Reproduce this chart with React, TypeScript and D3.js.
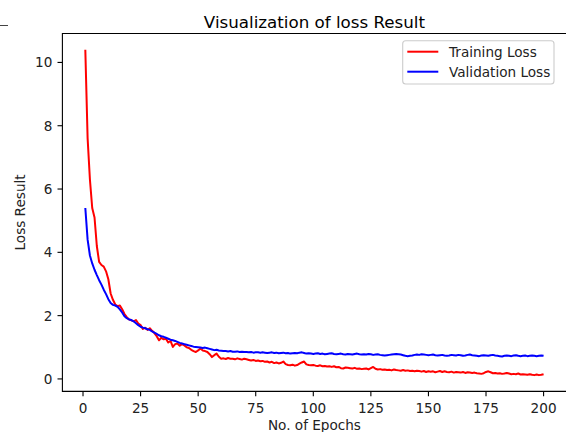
import React from 'react';
import * as d3 from 'd3';

// values (epochs 1..200)
const trainLoss = [
  10.4, 7.6, 6.3, 5.4, 5.1, 4.2, 3.7, 3.6, 3.55, 3.4,
  3.15, 2.7, 2.5, 2.35, 2.3, 2.32, 2.2, 2.05, 1.95, 1.88,
  1.85, 1.82, 1.86, 1.75, 1.7, 1.58, 1.62, 1.55, 1.6, 1.52,
  1.45, 1.35, 1.22, 1.3, 1.25, 1.27, 1.15, 1.2, 1.01, 1.1,
  1.12, 1.05, 1.1, 1.06, 1.0, 0.98, 0.92, 0.88, 0.85, 0.9,
  0.96, 0.9, 0.88, 0.85, 0.78, 0.69, 0.75, 0.8, 0.7, 0.64,
  0.65, 0.63, 0.66, 0.64, 0.64, 0.62, 0.65, 0.63, 0.61, 0.64,
  0.62, 0.6, 0.58, 0.6, 0.57, 0.58, 0.56, 0.57, 0.54, 0.55,
  0.52, 0.54, 0.5, 0.52, 0.49, 0.51, 0.55, 0.47, 0.44, 0.43,
  0.45, 0.42, 0.44, 0.48, 0.52, 0.55, 0.46, 0.44, 0.43, 0.44,
  0.42, 0.41, 0.43, 0.4, 0.41, 0.39, 0.4, 0.38, 0.4, 0.37,
  0.38, 0.34, 0.33, 0.36, 0.35, 0.34, 0.33, 0.35, 0.32, 0.33,
  0.31, 0.32, 0.33, 0.3, 0.34, 0.38, 0.32, 0.3, 0.31, 0.29,
  0.3, 0.28, 0.29, 0.27, 0.3, 0.28, 0.27, 0.26, 0.28, 0.26,
  0.27, 0.25, 0.26, 0.24, 0.26, 0.25, 0.23, 0.25, 0.22, 0.24,
  0.23, 0.24, 0.21, 0.23, 0.25, 0.22, 0.24, 0.22, 0.21, 0.23,
  0.2, 0.22, 0.21, 0.2, 0.22, 0.19, 0.21, 0.2, 0.19, 0.2,
  0.18, 0.17, 0.16, 0.18, 0.22, 0.24, 0.21, 0.18, 0.19, 0.17,
  0.18, 0.16, 0.17, 0.19, 0.17, 0.15, 0.16, 0.15, 0.17, 0.14,
  0.15, 0.14, 0.13, 0.15, 0.13, 0.12, 0.14, 0.12, 0.13, 0.15,
];

const valLoss = [
  5.4, 4.4, 3.9, 3.65, 3.45, 3.28, 3.12, 2.98, 2.82, 2.68,
  2.52, 2.4, 2.34, 2.32, 2.28, 2.2, 2.1, 1.98, 1.92, 1.88,
  1.86, 1.82, 1.76, 1.7, 1.65, 1.62, 1.6, 1.57, 1.55, 1.5,
  1.46, 1.42, 1.38, 1.35, 1.33, 1.3, 1.27, 1.24, 1.22, 1.2,
  1.17, 1.14, 1.12, 1.1, 1.08, 1.06, 1.04, 1.02, 1.01, 1.0,
  0.99, 0.98, 0.99, 0.97, 0.95, 0.93, 0.91, 0.92, 0.9, 0.89,
  0.88, 0.88, 0.87, 0.88, 0.86, 0.86, 0.87, 0.85, 0.86, 0.85,
  0.85, 0.84, 0.85, 0.83, 0.84, 0.84, 0.83, 0.84, 0.83, 0.82,
  0.83, 0.84, 0.82, 0.83, 0.81, 0.82, 0.83, 0.81, 0.82, 0.8,
  0.81, 0.82, 0.81, 0.83, 0.84, 0.82, 0.8, 0.81, 0.8, 0.79,
  0.8, 0.81, 0.79, 0.8, 0.78, 0.79, 0.8, 0.81, 0.79, 0.78,
  0.79, 0.8, 0.78, 0.77, 0.79, 0.78, 0.77, 0.79, 0.8, 0.78,
  0.77, 0.78, 0.77, 0.79, 0.78, 0.76, 0.77, 0.78, 0.76, 0.75,
  0.74, 0.75, 0.76, 0.77, 0.78, 0.79, 0.78, 0.77, 0.75, 0.73,
  0.72, 0.73, 0.74, 0.76, 0.77, 0.76, 0.78, 0.77, 0.76, 0.75,
  0.76, 0.77, 0.75, 0.74, 0.75, 0.76, 0.74, 0.73, 0.74, 0.76,
  0.75, 0.74, 0.76, 0.75, 0.73, 0.74, 0.76, 0.77, 0.75, 0.74,
  0.73, 0.72, 0.74, 0.75, 0.74, 0.73, 0.75, 0.76, 0.74, 0.73,
  0.72, 0.71, 0.73, 0.74, 0.73, 0.72, 0.74, 0.75, 0.73, 0.72,
  0.73, 0.74, 0.72, 0.73, 0.74, 0.73, 0.72, 0.73, 0.74, 0.73,
];

const xTicks = [0, 25, 50, 75, 100, 125, 150, 175, 200];
const yTicks = [0, 2, 4, 6, 8, 10];
const seriesNames = ['Training Loss', 'Validation Loss'];
const seriesColors = ['red', 'blue'];

const W = 566;
const H = 432;
const font = 'DejaVu Sans, sans-serif';

const App = () => {
  const left = 62.4;
  const right = 566.5;
  const top = 33.5;
  const bottom = 391.4;

  const epochs = trainLoss.map((_, i) => i + 1);
  const all = trainLoss.concat(valLoss);
  const yMin = d3.min(all) as number;
  const yMax = d3.max(all) as number;
  const yPad = (yMax - yMin) * 0.05;
  const xPad = (epochs.length - 1) * 0.05;

  const x = d3.scaleLinear().domain([1 - xPad, epochs.length + xPad]).range([left, right]);
  const y = d3.scaleLinear().domain([yMin - yPad, yMax + yPad]).range([bottom, top]);

  const line = d3.line<number>()
    .x((d, i) => x(epochs[i]))
    .y(d => y(d));

  const series = [trainLoss, valLoss];

  return (
    <svg width={W} height={H} style={{ position: 'absolute', left: 0, top: 0, background: '#fff' }}>
      <line x1={0} x2={8} y1={25.5} y2={25.5} stroke="#444" strokeWidth={1} />

      <text x={(left + right) / 2} y={27.5} textAnchor="middle" fontFamily={font} fontSize={16.7} fill="#000">
        Visualization of loss Result
      </text>

      {series.map((s, i) => (
        <path key={i} d={line(s) || ''} fill="none" stroke={seriesColors[i]} strokeWidth={2} strokeLinejoin="round" />
      ))}

      {/* spines */}
      <path d={`M${right},${top}H${left}V${bottom}H${right}`} fill="none" stroke="#000" strokeWidth={1.1} />

      {xTicks.map(t => (
        <g key={t}>
          <line x1={x(t)} x2={x(t)} y1={bottom} y2={bottom + 4.9} stroke="#000" strokeWidth={1.1} />
          <text x={x(t)} y={412.5} textAnchor="middle" fontFamily={font} fontSize={13.6} fill="#222">{t}</text>
        </g>
      ))}
      {yTicks.map(t => (
        <g key={t}>
          <line x1={left} x2={left - 4.9} y1={y(t)} y2={y(t)} stroke="#000" strokeWidth={1.1} />
          <text x={52.3} y={y(t) + 5} textAnchor="end" fontFamily={font} fontSize={13.6} fill="#222">{t}</text>
        </g>
      ))}

      <text x={(left + right) / 2} y={430} textAnchor="middle" fontFamily={font} fontSize={13.6} fill="#222">
        No. of Epochs
      </text>
      <text transform={`translate(25,${(top + bottom) / 2}) rotate(-90)`} textAnchor="middle" fontFamily={font} fontSize={13.6} fill="#222">
        Loss Result
      </text>

      {/* legend */}
      <rect x={402.7} y={40.7} width={151.3} height={43.3} rx={3} fill="#fff" fillOpacity={0.8} stroke="#ccc" strokeWidth={1.1} />
      {seriesNames.map((n, i) => (
        <g key={n}>
          <line x1={407.3} x2={438.3} y1={51.7 + i * 20} y2={51.7 + i * 20} stroke={seriesColors[i]} strokeWidth={2} />
          <text x={449} y={56.6 + i * 20} fontFamily={font} fontSize={13.6} fill="#222">{n}</text>
        </g>
      ))}
    </svg>
  );
};

export default App;
